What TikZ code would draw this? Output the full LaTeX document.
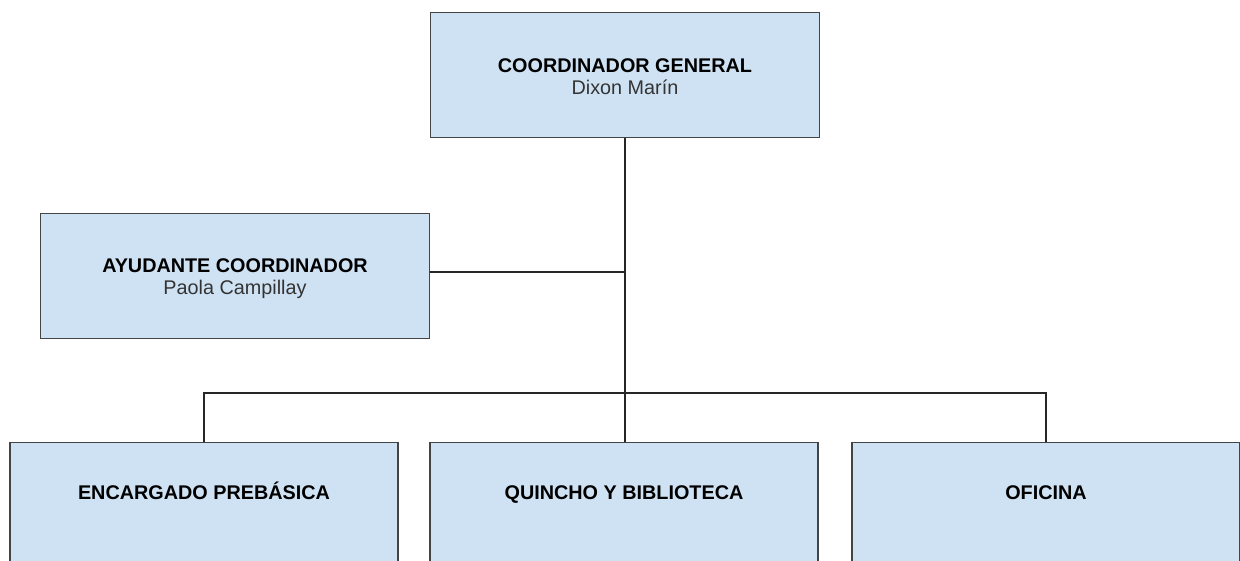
\documentclass[tikz,border=0pt]{standalone}
\usepackage{fontspec}
\setmainfont{Liberation Sans}
\usetikzlibrary{calc}
\definecolor{boxfill}{HTML}{CFE2F3}
\definecolor{boxline}{HTML}{444444}
\definecolor{nametext}{HTML}{333333}
\tikzset{
  orgbox/.style={draw=boxline, fill=boxfill, line width=1.3pt, minimum width=389pt, minimum height=125pt, inner sep=0pt},
  link/.style={draw=black!85, line width=1.1pt},
  title/.style={anchor=base, inner sep=0pt, font=\fontsize{19.8}{24}\selectfont\bfseries},
  person/.style={anchor=base, inner sep=0pt, text=nametext, font=\fontsize{19.8}{24}\selectfont}
}
\begin{document}
\begin{tikzpicture}[x=1pt,y=-1pt]
\useasboundingbox (0,0) rectangle (1240,561);
\node[orgbox] (cg) at (625,75) {};
\node[orgbox] (ay) at (235,276) {};
\node[orgbox, minimum width=388pt] (enc) at (204,505) {};
\node[orgbox, minimum width=388pt] (qb) at (624,505) {};
\node[orgbox, minimum width=388pt] (ofi) at (1046,505) {};
\node[title] (cgT) at ($(cg.north)+(0,61)$) {COORDINADOR GENERAL};
\node[person] (cgP) at ($(cg.north)+(0,83)$) {Dixon Marín};
\node[title] (ayT) at ($(ay.north)+(0,60)$) {AYUDANTE COORDINADOR};
\node[person] (ayP) at ($(ay.north)+(0,82)$) {Paola Campillay};
\node[title] (encT) at ($(enc.north)+(0,58)$) {ENCARGADO PREBÁSICA};
\node[title] (qbT) at ($(qb.north)+(0,58)$) {QUINCHO Y BIBLIOTECA};
\node[title] (ofiT) at ($(ofi.north)+(0,58)$) {OFICINA};
\coordinate (bus) at (625,393);
\draw[link] (cg.south) -- (cg.south |- qb.north);
\draw[link] ($(ay.east)+(0,-4)$) -- ($(ay.east -| cg.south)+(0,-4)$);
\draw[link] (enc.north) -- (enc.north |- bus) -- (ofi.north |- bus) -- (ofi.north);
\end{tikzpicture}
\end{document}
